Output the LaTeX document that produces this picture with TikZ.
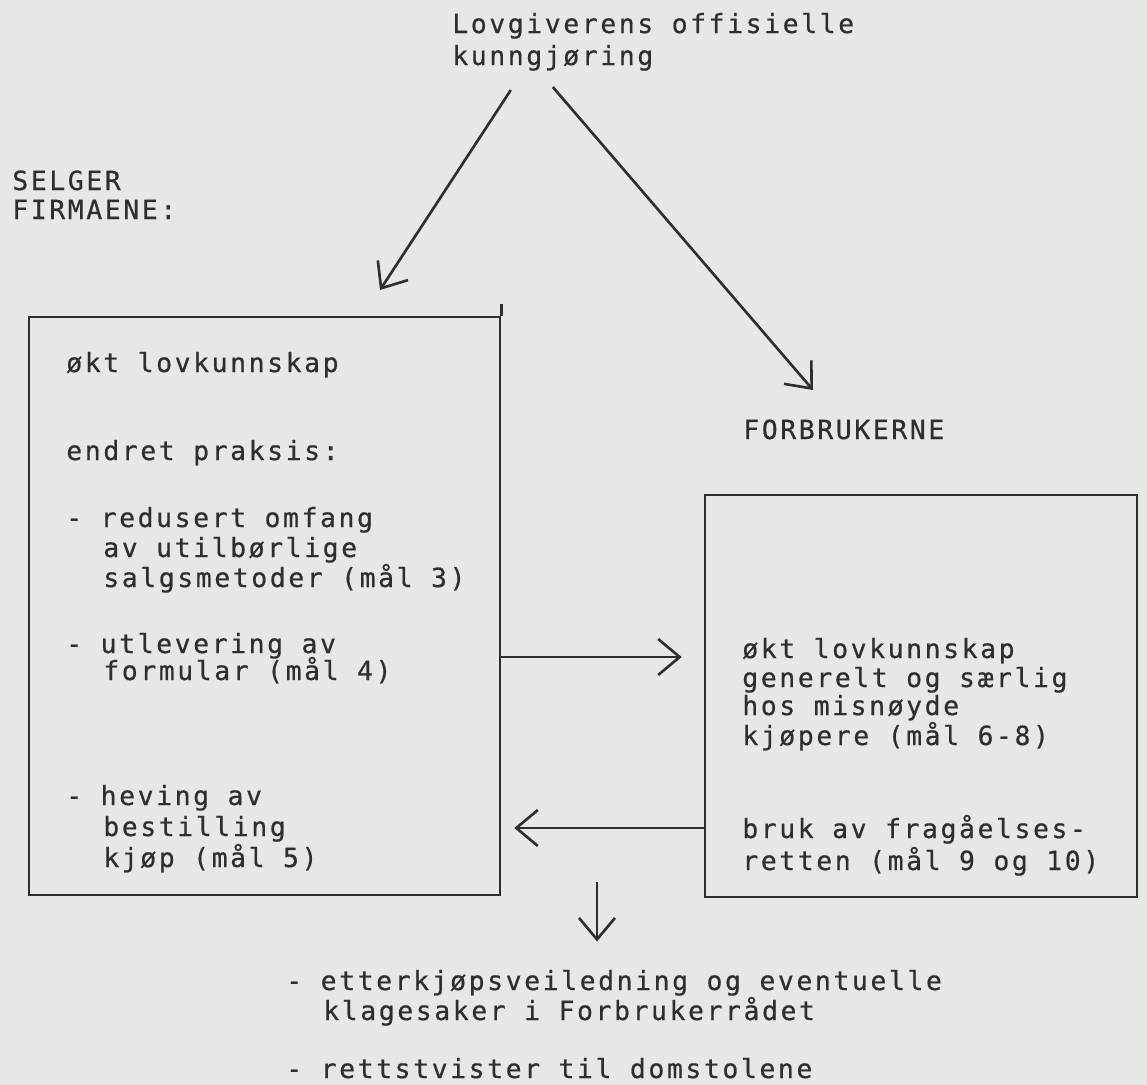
\documentclass[tikz,border=0pt]{standalone}
\usepackage{fontspec}
\newfontfamily\typew[LetterSpace=10,FakeBold=0.6]{DejaVu Sans Mono}
\usetikzlibrary{arrows.meta}
\definecolor{paper}{HTML}{E7E7E4}
\definecolor{ink}{HTML}{2E2E2E}
\begin{document}
\begin{tikzpicture}[x=0.02cm,y=-0.02cm,
   txt/.style={inner sep=0pt,anchor=base west,text=ink,font=\typew\fontsize{15pt}{18pt}\selectfont},
   box/.style={draw=ink,line width=1.5pt,inner sep=0pt},
   arr/.style={draw=ink,line width=1.5pt,-{Straight Barb[length=0.43cm,width=0.72cm]}}]
\fill[paper] (0,0) rectangle (1147,1085);
\useasboundingbox (0,0) rectangle (1147,1085);

\foreach \x/\y/\lbl in {452/33/Lovgiverens offisielle, 452/65/kunngjøring}
   \node[txt] (t\y) at (\x,\y) {\lbl};

\foreach \x/\y/\lbl in {12/190/SELGER, 12/219/FIRMAENE:}
   \node[txt] (s\y) at (\x,\y) {\lbl};

\node[box,minimum width=9.42cm,minimum height=11.56cm] (selger) at (264.5,606) {};
\draw[box] (selger.north east) -- ++(0,-12);
\foreach \x/\y/\lbl in {66/372/økt lovkunnskap, 66/460/endret praksis:,
   66/527/- redusert omfang, 103/557/av utilbørlige, 103/587/salgsmetoder (mål 3),
   66/653/- utlevering av, 103/680/formular (mål 4),
   66/805/- heving av, 103/836/bestilling, 103/867/kjøp (mål 5)}
   \node[txt] (l\y) at (\x,\y) {\lbl};

\node[txt] (forb) at (743,439) {FORBRUKERNE};
\node[box,minimum width=8.64cm,minimum height=8.04cm] (forbr) at (921,696) {};
\foreach \x/\y/\lbl in {742/658/økt lovkunnskap, 742/687/generelt og særlig,
   742/715/hos misnøyde, 742/745/kjøpere (mål 6-8),
   742/838/bruk av fragåelses-, 742/870/retten (mål 9 og 10)}
   \node[txt] (r\y) at (\x,\y) {\lbl};

\foreach \x/\y/\lbl in {286/990/- etterkjøpsveiledning og eventuelle,
   323/1020/klagesaker i Forbrukerrådet, 286/1078/- rettstvister til domstolene}
   \node[txt] (b\y) at (\x,\y) {\lbl};

\coordinate (p1) at (380,290);
\coordinate (p2) at (813,390);
\coordinate (h1) at (600,657);
\coordinate (h2) at (600,828);
\coordinate (ned) at (597,882);

\draw[arr] ([xshift=-0.84cm,yshift=-0.38cm]t65.south) -- (p1);
\draw[arr] ([yshift=-0.32cm]t65.south) -- (p2);
\draw[arr,shorten >=0.44cm] (selger.east |- h1) -- (forbr.west |- h1);
\draw[arr,shorten >=0.26cm] (forbr.west |- h2) -- (selger.east |- h2);
\draw[arr,shorten >=0.56cm] (ned) -- (ned |- b990.north);
\end{tikzpicture}
\end{document}
